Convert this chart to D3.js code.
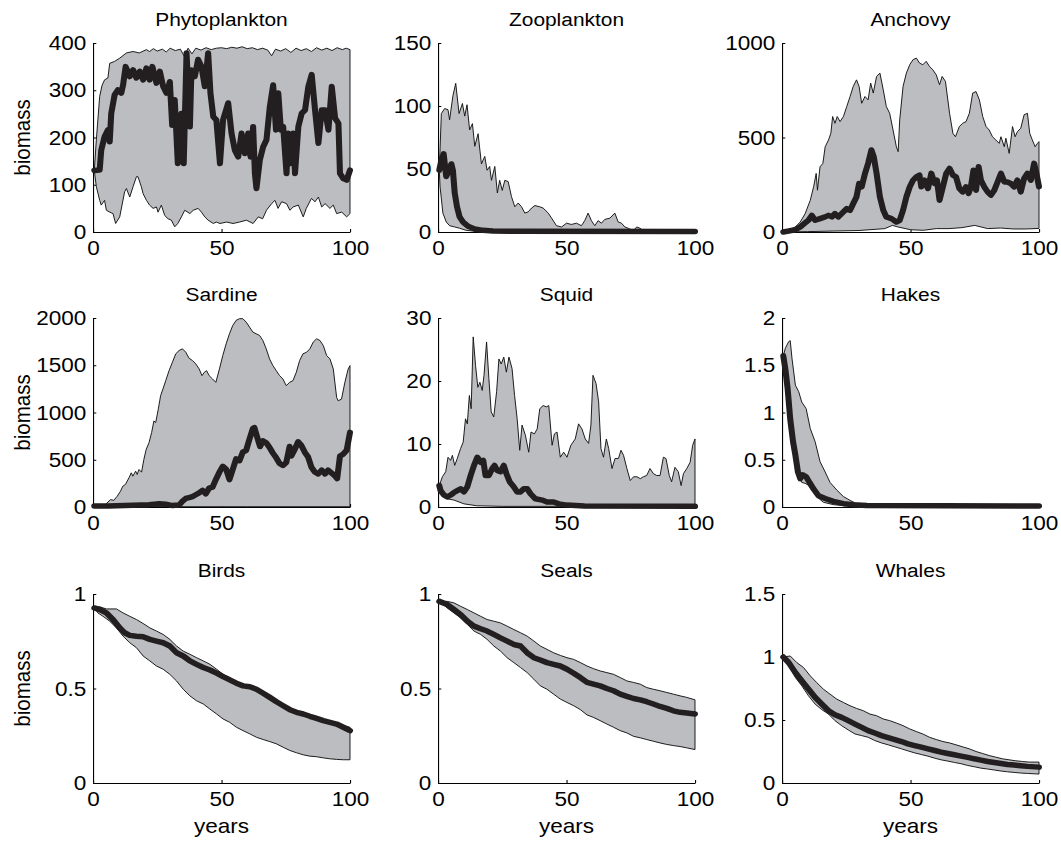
<!DOCTYPE html>
<html>
<head>
<meta charset="utf-8">
<script src="https://cdn.jsdelivr.net/npm/d3@7"></script>
<style>
  body { margin: 0; background: #fff; }
  svg { display: block; }
  text { font-family: "Liberation Sans", Arial, Helvetica, sans-serif; fill: #000; }
</style>
</head>
<body>
<div id="chart"></div>
<script>
var species = ["Phytoplankton", "Zooplankton", "Anchovy", "Sardine", "Squid", "Hakes", "Birds", "Seals", "Whales"];
var yMax = [400, 150, 1000, 2000, 30, 2, 1, 1, 1.5];
var yTicks = [
  [0, 100, 200, 300, 400],
  [0, 50, 100, 150],
  [0, 500, 1000],
  [0, 500, 1000, 1500, 2000],
  [0, 10, 20, 30],
  [0, 0.5, 1, 1.5, 2],
  [0, 0.5, 1],
  [0, 0.5, 1],
  [0, 0.5, 1, 1.5]
];
var xTicks = [0, 50, 100];

// [year, biomass] pairs
var phytoUpper = [[0.5,130],[1.3,195],[2.6,287],[3.5,310],[4.5,322],[5.8,326],[6.5,357],[8.4,361],[10.4,368],[13,379],[15.6,382],[18,379],[20.8,386],[22,382],[23.5,388],[25,383],[27,387],[28.5,381],[30,389],[32,384],[34,387],[35.5,372],[37,389],[38.5,377],[40,389],[42,385],[44,390],[46,386],[48,389],[50,390],[52,388],[54,391],[56,389],[58,392],[60,388],[62,390],[64,386],[66,389],[68,385],[69.5,373],[71,387],[73,383],[75,388],[77,380],[79,389],[81,384],[83,388],[85,382],[87,390],[89,385],[91,389],[93,384],[95,390],[97,386],[98.5,389],[100,386]];
var phytoLower = [[0.5,130],[1.3,96],[2.6,67],[3.2,57],[4.5,67],[5.2,46],[6.5,42],[7.8,39],[8.8,18],[10.4,32],[12.3,85],[13,92],[14.3,74],[15.6,96],[16.9,117],[17.5,117],[18.8,96],[19.5,81],[20.8,67],[22,57],[23.4,50],[24.7,53],[25.3,42],[26.6,57],[27.9,35],[29.2,28],[30.5,25],[31.8,11],[33,18],[34.4,32],[35.7,46],[37.7,39],[39,46],[40.9,50],[42.2,42],[43.5,32],[44.8,25],[46.8,18],[48,21],[49.4,18],[52,21],[54.5,18],[57,21],[59.7,25],[62.3,18],[64.3,32],[66,28],[67.5,46],[69.5,60],[70.8,67],[72,50],[73.4,64],[75.3,60],[76.6,46],[77.9,53],[79.9,57],[81.8,32],[83,50],[85,71],[86.4,64],[87.7,74],[89,53],[90.3,60],[92.2,50],[93.5,57],[94.8,39],[96.8,42],[98.7,32],[100,39]];
var phytoMean = [[0.5,130],[2.6,131],[3.2,173],[4.5,202],[5.8,216],[6.5,191],[7.1,251],[8.4,290],[9.7,301],[11,294],[11.7,311],[12.7,350],[14.3,329],[15.6,343],[16.9,326],[18.2,340],[19.5,322],[20.8,347],[22,322],[23.1,350],[24.7,315],[26,340],[27.3,308],[28.6,294],[29.9,318],[30.8,226],[31.8,280],[33,145],[34.4,251],[35.3,145],[36.4,379],[37.7,223],[38.3,343],[39.6,329],[40.9,365],[42.2,350],[43.5,308],[44.8,379],[45.7,294],[46.8,244],[48,237],[49.4,145],[50.6,237],[52.6,273],[53.9,209],[55.2,173],[56.5,159],[57.8,209],[59.1,166],[60.4,209],[61.3,159],[62.3,223],[63,124],[63.6,92],[64.9,152],[66.2,180],[67.5,195],[68.8,265],[70.1,311],[71.2,216],[72.1,294],[73.1,216],[74,223],[75.3,124],[76,209],[76.9,145],[77.9,209],[78.6,124],[79.9,223],[81.2,251],[82.5,258],[83.8,308],[85.1,333],[86.4,258],[87.7,188],[89,258],[90.3,258],[91.6,216],[92.9,308],[94.2,241],[95.5,230],[96.1,124],[97.4,113],[98.7,110],[100,131]];

var zooUpper = [[0.5,49],[1.3,94],[2.6,98],[3.9,97],[4.5,89],[5.8,108],[6.9,118],[8.2,94],[9.5,102],[10.4,92],[11.3,101],[12.3,81],[13.4,86],[14.3,68],[15.6,78],[16.9,54],[18.2,60],[19.1,49],[20.1,52],[20.8,41],[22.1,52],[23.1,31],[24,41],[25,33],[26,41],[27.3,40],[28.6,28],[29.9,20],[31.2,23],[32.5,20],[33.8,15],[35.1,16],[36.4,19],[37.7,21],[39.6,20],[40.9,19],[42.9,15],[44.2,11],[46.1,5],[48.1,4],[50,7],[51.9,6],[53.9,7],[55.8,5],[57.1,9],[58.4,15],[59.7,9],[61,5],[62.3,9],[63.6,7],[64.9,10],[66.9,11],[68.8,15],[70.1,8],[71.4,7],[72.7,4],[74,3],[76,1],[77.3,4],[78.6,3],[79.9,1],[81.2,0.5],[85,0.3],[100,0.3]];
var zooLower = [[0.5,49],[0.8,36],[1.9,15],[3.2,8],[4.5,5],[6.5,4],[8.4,3],[11,1.3],[14.9,0.5],[20,0.2],[100,0.2]];
var zooMean = [[0.5,49],[1.3,57],[2.2,62],[3.2,44],[4.3,49],[5.2,54],[5.8,49],[6.5,31],[7.4,20],[8.4,12],[9.7,8],[11.7,4.5],[14.3,2.4],[17.5,1.3],[21.4,0.8],[30,0.5],[100,0.4]];

var anchovyUpper = [[0.5,0],[2.6,9],[5.2,27],[7.1,53],[9,97],[11,168],[12.3,239],[13.3,310],[13.8,221],[14.8,345],[15.9,363],[16.8,451],[18.1,487],[19,522],[19.7,611],[20.6,575],[21.5,611],[22.6,584],[23.9,611],[25.2,664],[26.5,717],[27.7,770],[29,805],[30,770],[31,681],[32.3,717],[33.5,699],[34.5,788],[35.5,735],[36.8,823],[38.1,841],[39.4,752],[40.6,664],[41.9,628],[43.2,540],[44.5,451],[45.2,425],[45.8,593],[47.1,770],[48.4,841],[49.7,885],[51,912],[52.3,920],[53.5,894],[54.8,885],[56.1,903],[57.4,876],[58.7,858],[60,832],[61.3,779],[62.3,823],[63.6,797],[65.2,628],[66.5,522],[67.5,504],[69,558],[70.3,575],[71.6,584],[72.9,628],[74.2,735],[75.5,743],[76.8,699],[78.1,611],[79.4,558],[80.6,540],[81.9,504],[83.2,487],[84.5,469],[85.2,504],[86.5,451],[87.1,496],[88.4,416],[89.7,558],[90.7,504],[91.6,531],[92.9,549],[94.2,620],[95.5,628],[96.4,522],[97.4,487],[98.5,451],[99.4,469],[100,478]];
var anchovyLower = [[0.5,0],[10,2],[20,5],[30,8],[40,18],[43,35],[45,27],[50,12],[55,9],[60,18],[65,18],[70,23],[75,35],[80,18],[85,21],[90,16],[95,16],[100,19]];
var anchovyMean = [[0.5,0],[2.6,5],[5.2,12],[7.1,27],[8.6,44],[10.3,62],[11.6,88],[12.9,62],[14.8,71],[16.8,80],[18.1,88],[19.4,80],[20.6,97],[21.9,80],[23.2,97],[25.2,124],[26.5,115],[27.7,150],[29,186],[30,257],[31,239],[32.3,310],[33.5,363],[34.8,434],[35.7,398],[36.8,310],[38.1,186],[39.4,115],[40.6,80],[42.6,71],[44.5,53],[45.8,62],[47.1,115],[48.4,186],[49.7,239],[51,274],[52.3,292],[53.5,301],[54.2,239],[55.5,274],[56.8,230],[58.1,310],[59.4,257],[60.3,274],[61.3,168],[62.6,239],[63.9,310],[65.2,336],[66.5,301],[67.7,292],[69,230],[70.3,212],[71.6,239],[72.6,204],[73.5,239],[74.5,327],[75.5,221],[76.5,345],[77.4,274],[78.7,239],[80,212],[81.3,195],[82.6,221],[83.9,265],[85.2,310],[86.5,265],[87.7,265],[89,257],[90.3,239],[91.6,274],[92.9,212],[94.2,283],[95.5,310],[96.8,274],[98.1,363],[99,310],[100,239]];

var sardineUpper = [[0.5,10],[2.2,14],[4.8,25],[6.8,78],[8.1,71],[9.4,113],[10.7,167],[11.6,220],[12.6,238],[14,309],[14.9,362],[15.5,326],[16.6,379],[17.2,344],[17.9,397],[18.9,369],[19.8,504],[20.7,610],[21.8,681],[22.8,787],[23.7,911],[24.4,894],[25.4,1035],[26.3,1177],[27.2,1248],[28.3,1337],[29.6,1443],[30.9,1532],[32.2,1621],[33.5,1656],[34.8,1674],[36.1,1638],[37.4,1574],[38.7,1550],[40,1514],[41.3,1461],[42.4,1390],[43.3,1425],[44.2,1443],[45.2,1390],[46.5,1355],[47.8,1319],[49.2,1461],[50.5,1603],[51.8,1727],[53.1,1833],[54.4,1922],[55.7,1975],[57,1993],[58.3,1993],[59.6,1957],[60.9,1904],[62.2,1851],[63.5,1833],[64.8,1816],[66.1,1762],[67.4,1674],[68.7,1567],[70,1496],[71.3,1443],[72.6,1390],[73.9,1355],[75.2,1284],[76.5,1319],[77.8,1337],[79.1,1425],[80.4,1550],[81.7,1621],[83.1,1638],[84.4,1674],[85.7,1745],[87,1780],[88.3,1762],[89.6,1709],[90.9,1603],[92.2,1567],[93.5,1461],[94.8,1160],[95.4,1124],[96.7,1142],[98,1319],[99.3,1461],[100,1496]];
var sardineLower = [[0.5,10],[5,3],[30,3],[60,3],[100,3]];
var sardineMean = [[0.5,10],[6.1,10],[21.8,25],[25.7,35],[28.3,30],[30.9,15],[33.5,20],[34.8,60],[36.1,90],[37.4,100],[38.7,110],[40,130],[41.3,150],[42.6,175],[43.9,140],[45.2,200],[46.5,210],[47.8,290],[49.2,370],[50.5,430],[51.8,400],[53.1,290],[54.4,400],[55.7,510],[57,490],[58.3,580],[59.6,600],[60.9,720],[62.2,830],[62.8,840],[64.1,720],[65,640],[66.1,700],[67.4,680],[68.7,630],[70,570],[71.3,520],[72.6,460],[73.9,440],[75.2,470],[76.5,640],[77.2,540],[78.5,610],[79.8,690],[81.1,650],[82.4,580],[83.7,530],[85,420],[86.3,370],[87.6,350],[89,390],[90.3,350],[91.5,390],[92.8,360],[94.1,330],[95,300],[96.1,540],[97.4,560],[98.7,600],[100,790]];

var squidUpper = [[0.5,3.4],[1.7,4.8],[3,5.6],[3.9,7.9],[4.9,7.4],[5.6,8.2],[6.5,6.6],[7.5,7.7],[8.8,9.3],[9.8,10.3],[10.7,14],[11.4,13.2],[12.2,17.7],[12.9,15.6],[13.7,27],[14.6,22.5],[15.5,19],[16.3,19.8],[17.2,18.5],[17.9,20.9],[18.9,26.2],[19.8,20.4],[20.7,15.1],[21.7,14.3],[22.8,18.3],[23.7,23.5],[24.6,22.7],[25.6,23.8],[26.6,21.4],[27.6,23.8],[28.8,22],[29.8,17.7],[30.8,14],[31.8,9],[32.7,13],[34,11.4],[35.3,8.7],[36.2,11.9],[37.5,11.6],[38.6,12.4],[39.6,15.6],[40.9,16.1],[42.2,15.9],[43.1,16.1],[44.4,9.8],[45.3,11.6],[46.3,11.9],[47.6,7.9],[48.9,8.7],[50.2,7.9],[51.7,9.8],[53.4,10.8],[54.7,13.2],[56,12.4],[57.3,10.8],[58.6,10.1],[59.5,13],[60.3,20.9],[61.5,19.6],[62.5,16.7],[63.4,9.3],[64.4,7.9],[65.5,10.8],[66.4,9.3],[67.7,6.1],[68.9,7.7],[70.2,7.7],[71.2,9],[72.2,8.2],[73.5,6.1],[74.8,4.2],[76.1,4.8],[77.4,4.8],[78.7,4.5],[79.9,4.8],[81.2,5],[82.5,6.1],[83.8,5.3],[85.1,5],[86.4,5],[87.7,7.9],[88.7,7.7],[90,5],[90.9,4],[92.2,6.3],[93.5,5.6],[94.6,3.4],[95.5,5.3],[96.8,6.1],[98.1,7.1],[99.1,9.8],[100,10.8]];
var squidLower = [[0.5,3.4],[1.7,1.9],[3.6,1.3],[6.2,1.1],[10.1,0.5],[15,0.2],[25,0.1],[100,0.1]];
var squidMean = [[0.5,3.4],[1,2.6],[2.3,1.9],[3.6,1.6],[4.9,1.9],[6.2,2.3],[7.5,2.6],[8.8,2.9],[10.1,2.4],[11.4,3.2],[12.7,5],[14,6.6],[15.3,7.9],[16.6,7.1],[17.6,7.4],[18.5,5],[19.8,5],[21.1,6.1],[22,6.6],[23,5.8],[24.3,5.6],[25.6,6.6],[26.6,5.3],[27.9,4],[29.5,3.2],[30.8,2.4],[32.1,2.4],[33.4,2.9],[34.7,2.9],[36,2.1],[37.9,1.3],[40.5,1.1],[42.4,0.8],[45,0.8],[47,0.5],[50.2,0.3],[57,0.15],[100,0.1]];

var hakesUpper = [[0.5,1.6],[1.3,1.68],[2.6,1.75],[3.2,1.76],[3.9,1.57],[5.2,1.29],[6.5,1.22],[7.7,1.11],[9.4,1.04],[11,0.83],[12.9,0.69],[14.8,0.48],[16.8,0.37],[18.7,0.26],[21.3,0.18],[23.9,0.11],[26.5,0.07],[29,0.035],[31.6,0.018],[35,0.008],[100,0.005]];
var hakesLower = [[0.5,1.6],[1.3,1.29],[2.6,0.97],[3.9,0.69],[5.2,0.48],[6.5,0.34],[7.7,0.26],[9,0.25],[10.3,0.23],[11.6,0.18],[13.5,0.11],[16.1,0.05],[20,0.025],[26,0.01],[100,0.005]];
var hakesMean = [[0.5,1.6],[1.3,1.46],[2.2,1.25],[3.2,0.93],[4.3,0.69],[5.2,0.55],[6.2,0.37],[7.1,0.3],[8.1,0.34],[9.4,0.32],[10.7,0.26],[12.3,0.19],[14.2,0.12],[16.8,0.09],[20,0.06],[23.9,0.035],[27.7,0.025],[33,0.015],[100,0.01]];

var birdsUpper = [[0.5,0.926],[2.6,0.932],[5.2,0.921],[9.1,0.921],[11.7,0.9],[14.3,0.882],[16.9,0.865],[19.5,0.844],[22.1,0.821],[24.7,0.804],[27.3,0.786],[29.9,0.76],[32.5,0.725],[35.1,0.698],[37.7,0.681],[40.3,0.663],[42.9,0.646],[45.5,0.628],[48.1,0.602],[50.6,0.575],[53.2,0.558],[55.8,0.532],[58.4,0.514],[61,0.505],[63.6,0.496],[66.2,0.479],[68.8,0.453],[71.4,0.426],[74,0.409],[76.6,0.382],[79.2,0.365],[81.8,0.356],[84.4,0.347],[87,0.335],[89.6,0.321],[92.2,0.318],[94.8,0.312],[97.4,0.304],[100,0.295]];
var birdsLower = [[0.5,0.926],[1.9,0.9],[3.9,0.882],[6.5,0.856],[9.1,0.821],[11.7,0.777],[14.3,0.742],[16.9,0.716],[19.5,0.672],[22.1,0.646],[24.7,0.619],[27.3,0.602],[29.9,0.575],[32.5,0.54],[35.1,0.496],[37.7,0.461],[40.3,0.435],[42.9,0.418],[45.5,0.391],[48.1,0.365],[50.6,0.339],[53.2,0.321],[55.8,0.295],[58.4,0.277],[61,0.26],[63.6,0.242],[66.2,0.23],[68.8,0.219],[71.4,0.207],[74,0.189],[76.6,0.172],[79.2,0.16],[81.8,0.149],[84.4,0.142],[87,0.139],[89.6,0.133],[92.2,0.128],[94.8,0.125],[97.4,0.123],[100,0.123]];
var birdsMean = [[0.5,0.926],[2.6,0.918],[5.2,0.9],[7.8,0.865],[10.4,0.821],[12.3,0.795],[14.3,0.781],[16.9,0.777],[19.5,0.774],[22.1,0.76],[24.7,0.751],[27.3,0.742],[29.9,0.725],[32.5,0.689],[35.1,0.672],[37.7,0.646],[40.3,0.628],[42.9,0.611],[45.5,0.598],[48.1,0.581],[50.6,0.563],[53.2,0.546],[55.8,0.528],[58.4,0.514],[61,0.509],[63.6,0.496],[66.2,0.475],[68.8,0.453],[71.4,0.43],[74,0.409],[76.6,0.388],[79.2,0.374],[81.8,0.365],[84.4,0.353],[87,0.342],[89.6,0.33],[92.2,0.321],[94.8,0.312],[97.4,0.295],[100,0.277]];

var sealsUpper = [[0.5,0.961],[3.6,0.961],[6.2,0.953],[8.8,0.935],[11.4,0.918],[14,0.9],[16.6,0.882],[19.1,0.865],[21.7,0.856],[24.3,0.847],[26.9,0.83],[29.5,0.812],[32.1,0.795],[34.7,0.777],[37.3,0.751],[39.8,0.725],[42.4,0.707],[45,0.689],[47.6,0.675],[50.2,0.663],[52.8,0.654],[55.4,0.637],[58,0.619],[60.5,0.605],[63.1,0.593],[65.7,0.584],[68.3,0.575],[70.9,0.558],[73.5,0.54],[76.1,0.532],[78.7,0.523],[81.2,0.505],[83.8,0.496],[86.4,0.488],[89,0.479],[91.6,0.47],[94.2,0.461],[96.8,0.453],[100,0.44]];
var sealsLower = [[0.5,0.961],[3.6,0.926],[6.2,0.9],[8.8,0.874],[11.4,0.839],[14,0.804],[16.6,0.786],[19.1,0.76],[21.7,0.725],[24.3,0.698],[26.9,0.663],[29.5,0.637],[32.1,0.611],[34.7,0.584],[37.3,0.549],[39.8,0.514],[42.4,0.496],[45,0.47],[47.6,0.444],[50.2,0.426],[52.8,0.409],[55.4,0.388],[58,0.36],[60.5,0.347],[63.1,0.33],[65.7,0.312],[68.3,0.295],[70.9,0.277],[73.5,0.265],[76.1,0.247],[78.7,0.239],[81.2,0.23],[83.8,0.221],[86.4,0.212],[89,0.204],[91.6,0.198],[94.2,0.193],[96.8,0.186],[100,0.177]];
var sealsMean = [[0.5,0.961],[3.6,0.944],[6.2,0.918],[8.8,0.891],[11.4,0.856],[14,0.83],[16.6,0.816],[19.1,0.804],[21.7,0.786],[24.3,0.768],[26.9,0.751],[29.5,0.733],[32.1,0.725],[34.7,0.689],[37.3,0.663],[39.8,0.651],[42.4,0.637],[45,0.628],[47.6,0.619],[50.2,0.602],[52.8,0.581],[55.4,0.558],[58,0.532],[60.5,0.523],[63.1,0.514],[65.7,0.5],[68.3,0.488],[70.9,0.47],[73.5,0.458],[76.1,0.447],[78.7,0.44],[81.2,0.43],[83.8,0.418],[86.4,0.405],[89,0.395],[91.6,0.382],[94.2,0.374],[96.8,0.37],[100,0.365]];

var whalesUpper = [[0.5,1],[3.2,1.008],[5.8,0.955],[8.4,0.916],[11,0.85],[13.5,0.797],[16.1,0.745],[18.7,0.705],[21.3,0.666],[23.9,0.639],[26.5,0.613],[29,0.592],[31.6,0.574],[34.2,0.547],[36.8,0.534],[39.4,0.508],[41.9,0.495],[44.5,0.476],[47.1,0.455],[49.7,0.429],[52.3,0.408],[54.8,0.389],[57.4,0.363],[60,0.345],[62.6,0.329],[65.2,0.318],[67.7,0.303],[70.3,0.287],[72.9,0.271],[75.5,0.25],[78.1,0.234],[80.6,0.218],[83.2,0.205],[85.8,0.192],[88.4,0.184],[91,0.176],[93.5,0.171],[96.1,0.166],[100,0.166]];
var whalesLower = [[0.5,1],[2.6,0.942],[5.2,0.837],[7.7,0.771],[10.3,0.692],[12.9,0.626],[15.5,0.582],[18.1,0.547],[20.6,0.495],[23.2,0.455],[25.8,0.421],[28.4,0.389],[31,0.376],[33.5,0.363],[36.1,0.337],[38.7,0.318],[41.3,0.303],[43.9,0.287],[46.5,0.271],[49,0.255],[51.6,0.239],[54.2,0.226],[56.8,0.213],[59.4,0.197],[61.9,0.184],[64.5,0.174],[67.1,0.163],[69.7,0.153],[72.3,0.139],[74.8,0.129],[77.4,0.118],[80,0.111],[82.6,0.103],[85.2,0.095],[87.7,0.089],[90.3,0.084],[92.9,0.079],[95.5,0.076],[100,0.071]];
var whalesMean = [[0.5,1],[2.6,0.955],[5.2,0.876],[7.7,0.811],[10.3,0.745],[12.9,0.679],[15.5,0.626],[18.1,0.574],[20.6,0.542],[23.2,0.521],[25.8,0.495],[28.4,0.468],[31,0.442],[33.5,0.416],[36.1,0.397],[38.7,0.376],[41.3,0.361],[43.9,0.345],[46.5,0.329],[49,0.311],[51.6,0.297],[54.2,0.284],[56.8,0.271],[59.4,0.258],[61.9,0.245],[64.5,0.234],[67.1,0.224],[69.7,0.213],[72.3,0.203],[74.8,0.192],[77.4,0.182],[80,0.171],[82.6,0.163],[85.2,0.155],[87.7,0.147],[90.3,0.142],[92.9,0.137],[95.5,0.132],[100,0.126]];

var upperSets = [phytoUpper, zooUpper, anchovyUpper, sardineUpper, squidUpper, hakesUpper, birdsUpper, sealsUpper, whalesUpper];
var lowerSets = [phytoLower, zooLower, anchovyLower, sardineLower, squidLower, hakesLower, birdsLower, sealsLower, whalesLower];
var meanSets = [phytoMean, zooMean, anchovyMean, sardineMean, squidMean, hakesMean, birdsMean, sealsMean, whalesMean];

// the source figure is a bit stretched sideways, so draw in a narrower box and stretch it
var stretchX = 1.1;
var pageW = 1061, pageH = 843;
var viewW = pageW / stretchX;
var colLeft = [93, 438, 782].map(function(px) { return px / stretchX; });
var rowTop = [43, 318, 594];
var plotW = 257 / stretchX;
var plotH = 189;
var tickFont = 20.5, titleFont = 19;

var svg = d3.select("#chart")
  .append("svg")
  .attr("width", pageW)
  .attr("height", pageH)
  .attr("viewBox", "0 0 " + viewW + " " + pageH)
  .attr("preserveAspectRatio", "none");

species.forEach(function(name, i) {
  var col = i % 3, row = Math.floor(i / 3);
  var g = svg.append("g")
    .attr("transform", "translate(" + colLeft[col] + "," + rowTop[row] + ")");

  var x = d3.scaleLinear().domain([0, 100]).range([0, plotW]);
  var y = d3.scaleLinear().domain([0, yMax[i]]).range([plotH, 0]);

  var line = d3.line()
    .x(function(d) { return x(d[0]); })
    .y(function(d) { return y(d[1]); });

  // axes (plain number labels like 1000, 0.5, 1)
  var yAxis = g.append("g")
    .call(d3.axisLeft(y).tickValues(yTicks[i]).tickFormat(String)
      .tickSize(-3).tickSizeOuter(0).tickPadding(6));
  var xAxis = g.append("g")
    .attr("transform", "translate(0," + plotH + ")")
    .call(d3.axisBottom(x).tickValues(xTicks).tickFormat(String)
      .tickSize(-3).tickSizeOuter(0).tickPadding(8));
  [yAxis, xAxis].forEach(function(a) {
    a.attr("font-family", null).attr("font-size", null);
    a.selectAll("text").style("font-size", tickFont + "px");
    a.selectAll("path, line").attr("stroke", "#000").attr("stroke-width", 1);
  });

  // min-max band
  var band = upperSets[i].concat(lowerSets[i].slice().reverse());
  g.append("path")
    .attr("d", line(band) + "Z")
    .attr("fill", "#bcbdc1")
    .attr("stroke", "#111")
    .attr("stroke-width", 0.9)
    .attr("stroke-linejoin", "round");

  // mean trajectory
  g.append("path")
    .attr("d", line(meanSets[i]))
    .attr("fill", "none")
    .attr("stroke", "#231f20")
    .attr("stroke-width", 5.5)
    .attr("stroke-linejoin", "round")
    .attr("stroke-linecap", "round");

  g.append("text")
    .attr("x", plotW / 2)
    .attr("y", -17)
    .attr("text-anchor", "middle")
    .style("font-size", titleFont + "px")
    .text(name);

  if (col === 0) {
    g.append("text")
      .attr("transform", "translate(" + (-57) + "," + (plotH / 2) + ") rotate(-90)")
      .attr("text-anchor", "middle")
      .style("font-size", tickFont + "px")
      .text("biomass");
  }
  if (row === 2) {
    g.append("text")
      .attr("x", plotW / 2)
      .attr("y", plotH + 50)
      .attr("text-anchor", "middle")
      .style("font-size", tickFont + "px")
      .text("years");
  }
});
</script>
</body>
</html>
